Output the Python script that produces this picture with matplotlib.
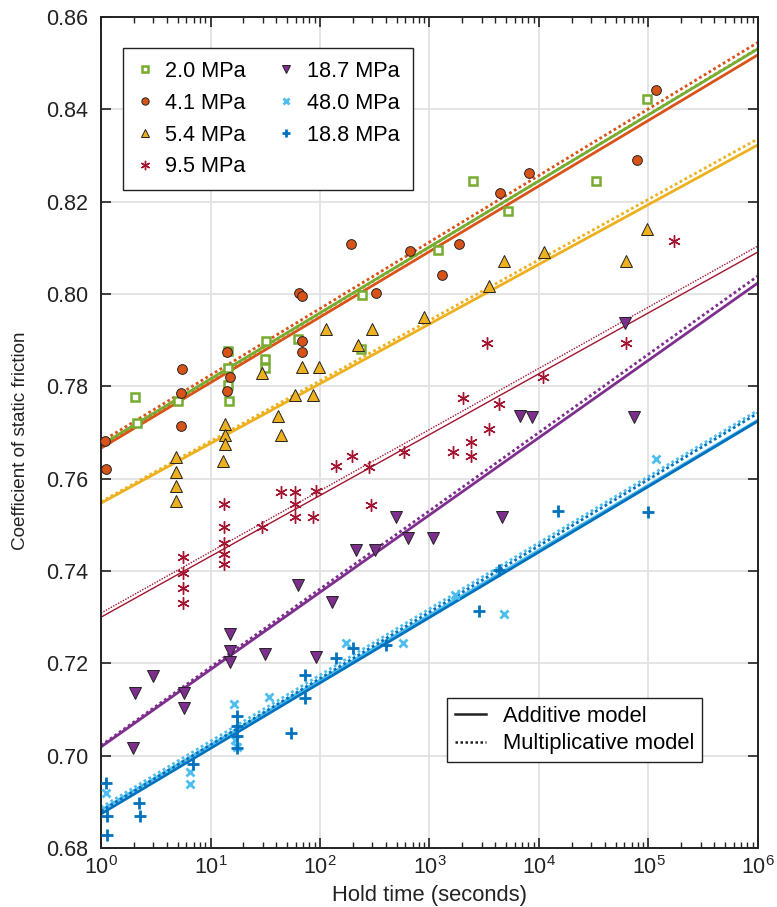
import numpy as np
import matplotlib
matplotlib.use('Agg')
import matplotlib.pyplot as plt
from matplotlib.lines import Line2D

plt.rcParams['font.family'] = ['Liberation Sans', 'DejaVu Sans']

# hold times (s) and friction values, one pair per series
t_20 = [2.04, 2.13, 5.05, 14.5, 14.5, 14.5, 14.7, 32.1, 31.4, 31.4, 63, 242, 236, 1196,
        2496, 5210, 33200, 96900]
mu_20 = [0.7777, 0.7721, 0.7768, 0.7877, 0.7840, 0.7803, 0.7768, 0.7898, 0.7859, 0.7840,
         0.7903, 0.7998, 0.7881, 0.8095, 0.8245, 0.8180, 0.8245, 0.8422]

t_41 = [1.09, 1.11, 5.49, 5.37, 5.37, 14.1, 15.1, 14.1, 64.3, 68.5, 68.5, 68.5, 192, 325,
        664, 1301, 1860, 4405, 8110, 78500, 117000]
mu_41 = [0.7682, 0.7621, 0.7838, 0.7786, 0.7714, 0.7874, 0.7820, 0.7790, 0.8002, 0.7996,
         0.7898, 0.7874, 0.8108, 0.8002, 0.8093, 0.8041, 0.8108, 0.8219, 0.8262, 0.8290, 0.8442]

t_54 = [4.84, 4.84, 4.84, 4.84, 13.6, 13.6, 13.6, 13.0, 29.5, 41.3, 44, 68.5, 59.1, 86.3,
        98, 113, 298, 222, 891, 3490, 4790, 11100, 62300, 96900]
mu_54 = [0.7647, 0.7614, 0.7584, 0.7552, 0.7718, 0.7695, 0.7675, 0.7638, 0.7829, 0.7736,
         0.7695, 0.7842, 0.7781, 0.7781, 0.7842, 0.7924, 0.7924, 0.7890, 0.7950, 0.8017,
         0.8071, 0.8091, 0.8071, 0.8141]

t_95 = [5.61, 5.61, 5.61, 5.61, 13.3, 13.3, 13.3, 13.3, 13.3, 29.5, 44, 59.1, 59.1, 59.1,
        86.3, 91.9, 140, 196, 280, 292, 585, 1640, 2390, 2390, 3490, 2020, 4310, 3350,
        10890, 62300, 171000]
mu_95 = [0.7430, 0.7396, 0.7363, 0.7331, 0.7545, 0.7495, 0.7461, 0.7437, 0.7415, 0.7495,
         0.7571, 0.7571, 0.7545, 0.7517, 0.7517, 0.7573, 0.7627, 0.7649, 0.7625, 0.7543,
         0.7658, 0.7658, 0.7679, 0.7649, 0.7708, 0.7775, 0.7762, 0.7894, 0.7820, 0.7894, 0.8115]

t_187 = [1.96, 2.04, 2.98, 5.73, 5.73, 15.1, 15.1, 15.1, 31.5, 91.9, 63, 129, 213, 318,
         494, 636, 1076, 4590, 6700, 8630, 61000, 73800]
mu_187 = [0.7017, 0.7136, 0.7173, 0.7136, 0.7103, 0.7264, 0.7227, 0.7203, 0.7220, 0.7214,
          0.7370, 0.7333, 0.7446, 0.7446, 0.7517, 0.7472, 0.7472, 0.7517, 0.7736, 0.7734,
          0.7937, 0.7734]

t_480 = [1.11, 6.5, 6.5, 16.4, 16.7, 17.4, 34.2, 173, 573, 1710, 4790, 117000]
mu_480 = [0.6919, 0.6965, 0.6939, 0.7112, 0.7034, 0.7019, 0.7127, 0.7244, 0.7244, 0.7348,
          0.7307, 0.7643]

t_188 = [1.11, 1.13, 1.13, 2.22, 2.27, 6.92, 17.5, 17.5, 17.5, 17.5, 54.3, 73, 73, 140,
         200, 401, 2830, 4310, 14900, 98900]
mu_188 = [0.6941, 0.6869, 0.6828, 0.6898, 0.6869, 0.6982, 0.7086, 0.7064, 0.7043, 0.7017,
          0.7049, 0.7175, 0.7125, 0.7212, 0.7233, 0.7240, 0.7313, 0.7402, 0.7530, 0.7528]

labels = ['2.0 MPa', '4.1 MPa', '5.4 MPa', '9.5 MPa', '18.7 MPa', '48.0 MPa', '18.8 MPa']

# fitted lines: value at t = 1 s and at t = 1e6 s
add_start = [0.7673, 0.7666, 0.7547, 0.7300, 0.7019, 0.6882, 0.6874]
add_end = [0.8531, 0.8518, 0.8323, 0.8091, 0.8024, 0.7727, 0.7725]
mult_start = [0.7671, 0.7680, 0.7550, 0.7309, 0.7022, 0.6888, 0.6880]
mult_end = [0.8532, 0.8545, 0.8336, 0.8104, 0.8039, 0.7748, 0.7742]

colors = ['#77AC30', '#D95319', '#EDB120', '#A2142F', '#7E2F8E', '#4DBEEE', '#0072BD']
ink = '#222222'

fig = plt.figure(figsize=(7.77, 9.07), dpi=100)
ax = fig.add_axes([0.13, 0.065, 0.8455, 0.9163])

tt = np.logspace(0, 6, 50)
for i in range(7):
    lw = 1.0 if i == 3 else 2.0
    b = (add_end[i] - add_start[i]) / 6
    ax.plot(tt, add_start[i] + b * np.log10(tt), color=colors[i], lw=lw, zorder=2)
    b = (mult_end[i] - mult_start[i]) / 6
    ax.plot(tt, mult_start[i] + b * np.log10(tt), color=colors[i], lw=lw,
            ls=(0, (1, 1)), zorder=2)

h = []
h.append(ax.plot(t_20, mu_20, ls='none', marker='s', ms=6, mfc='white', mec=colors[0], mew=1.8, zorder=3)[0])
h.append(ax.plot(t_41, mu_41, ls='none', marker='o', ms=7, mfc=colors[1], mec=ink, mew=0.7, zorder=3)[0])
h.append(ax.plot(t_54, mu_54, ls='none', marker='^', ms=8, mfc=colors[2], mec=ink, mew=0.7, zorder=3)[0])
h.append(ax.plot(t_95, mu_95, ls='none', marker=(6, 2, 0), ms=9, color=colors[3], mew=1.0, zorder=3)[0])
h.append(ax.plot(t_187, mu_187, ls='none', marker='v', ms=8, mfc=colors[4], mec=ink, mew=0.7, zorder=3)[0])
h.append(ax.plot(t_480, mu_480, ls='none', marker='x', ms=6, color=colors[5], mew=2.0, zorder=3)[0])
h.append(ax.plot(t_188, mu_188, ls='none', marker='+', ms=8, color=colors[6], mew=2.0, zorder=3)[0])

ax.set_xscale('log')
ax.set_xlim(1, 1e6)
ax.set_ylim(0.68, 0.86)
ax.set_yticks(np.arange(0.68, 0.861, 0.02))
ax.yaxis.set_major_formatter(matplotlib.ticker.FormatStrFormatter('%.2f'))
ax.xaxis.set_minor_locator(matplotlib.ticker.LogLocator(base=10, subs=np.arange(2, 10), numticks=20))
ax.xaxis.set_minor_formatter(matplotlib.ticker.NullFormatter())
ax.grid(True, which='major', color='#e2e2e2', lw=1.3, zorder=0)
ax.set_axisbelow(True)
ax.tick_params(which='both', direction='in', top=True, right=True, labelsize=15.5, colors=ink)
ax.tick_params(which='major', length=7, width=1.2)
ax.tick_params(which='minor', length=4, width=1.0)
ax.tick_params(axis='y', pad=9)
ax.tick_params(axis='x', pad=6)
for s in ax.spines.values():
    s.set_linewidth(1.4)
    s.set_color(ink)

ax.set_xlabel('Hold time (seconds)', fontsize=15.8, color=ink)
ax.set_ylabel('Coefficient of static friction', fontsize=13.6, color=ink)
ax.yaxis.set_label_coords(-0.11, 0.49)

leg1 = ax.legend(h, labels, ncol=2, loc='upper left', bbox_to_anchor=(0.0335, 0.9627),
                 borderaxespad=0, fontsize=15.6, frameon=True, fancybox=False,
                 edgecolor=ink, framealpha=1, markerscale=0.75, handlelength=0.8,
                 handletextpad=0.56, labelspacing=0.5, columnspacing=1.45,
                 borderpad=0.6)
leg1.get_frame().set_linewidth(1.0)
ax.add_artist(leg1)

mh = [Line2D([], [], color=ink, lw=1.8),
      Line2D([], [], color=ink, lw=1.8, ls=(0, (1, 1)))]
leg2 = ax.legend(mh, ['Additive model', 'Multiplicative model'], loc='lower right',
                 bbox_to_anchor=(0.9148, 0.1035), borderaxespad=0, fontsize=15.8,
                 fancybox=False, edgecolor=ink, framealpha=1, handlelength=1.45,
                 handletextpad=0.75, labelspacing=0.3, borderpad=0.35)
leg2.get_frame().set_linewidth(1.0)

fig.savefig('out.png', dpi=100)
